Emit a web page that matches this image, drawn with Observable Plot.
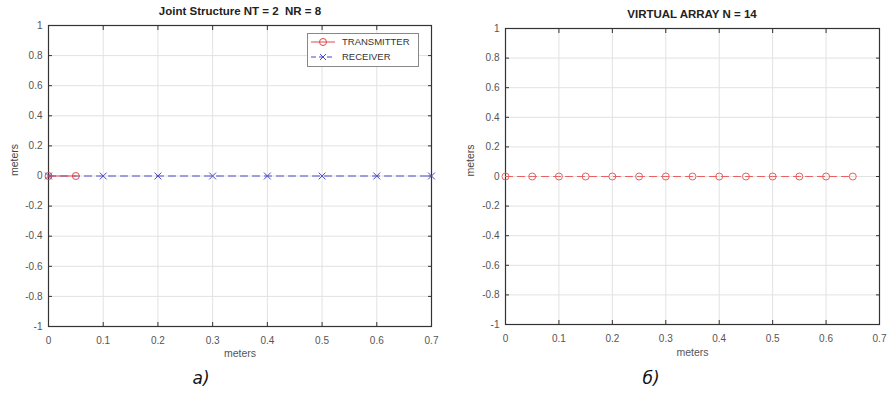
<!DOCTYPE html>
<html><head><meta charset="utf-8">
<script src="https://cdn.jsdelivr.net/npm/d3@7"></script>
<script src="https://cdn.jsdelivr.net/npm/@observablehq/plot@0.6"></script>
<style>
body{margin:0;background:#fff;font-family:"Liberation Sans",Arial,sans-serif;}
#wrap{position:relative;width:894px;height:395px;}
.t{position:absolute;font-weight:bold;font-size:11.5px;color:#222;white-space:pre;transform:translateX(-50%);}
.cap{position:absolute;font-style:italic;font-size:17px;color:#111;transform:translateX(-50%);font-family:"DejaVu Sans",sans-serif;}
.lg{position:absolute;left:307px;top:33px;width:110px;height:32px;border:1px solid #888;background:#fff;font-size:9.5px;color:#333;}
.lg div{height:15px;line-height:15px;display:flex;align-items:center;}
</style></head><body>
<div id="wrap">
<div class="t" style="left:240px;top:5px">Joint Structure NT = 2  NR = 8</div>
<div class="t" style="left:692px;top:8px">VIRTUAL ARRAY N = 14</div>
<div class="cap" style="left:201px;top:368px">а)</div>
<div class="cap" style="left:651px;top:368px">б)</div>
</div>
<script>
const transmitterX = [0, 0.05];
const receiverX = [0, 0.1, 0.2, 0.3, 0.4, 0.5, 0.6, 0.7];
const virtualX = [0, 0.05, 0.1, 0.15, 0.2, 0.25, 0.3, 0.35, 0.4, 0.45, 0.5, 0.55, 0.6, 0.65];
const xTicks = [0, 0.1, 0.2, 0.3, 0.4, 0.5, 0.6, 0.7];
const yTicks = [-1, -0.8, -0.6, -0.4, -0.2, 0, 0.2, 0.4, 0.6, 0.8, 1];
const legendLabels = ["TRANSMITTER", "RECEIVER"];

const red = "#e04848", blue = "#4848c8", vred = "#e86060";
const fmt = d => String(+d.toFixed(1));

function axes() {
  return [
    Plot.gridX(xTicks, {stroke: "#e2e2e2", strokeOpacity: 1}),
    Plot.gridY(yTicks, {stroke: "#e2e2e2", strokeOpacity: 1}),
    Plot.axisX(xTicks, {anchor: "bottom", tickSize: 0, tickPadding: 10, tickFormat: fmt, fill: "#555", fontSize: 10, label: null}),
    Plot.axisX(xTicks, {anchor: "bottom", tickSize: -4, text: null, stroke: "#333"}),
    Plot.axisX(xTicks, {anchor: "top", tickSize: -4, text: null, stroke: "#333"}),
    Plot.axisY(yTicks, {anchor: "left", tickSize: 0, tickPadding: 6, tickFormat: fmt, fill: "#555", fontSize: 10, label: null}),
    Plot.axisY(yTicks, {anchor: "left", tickSize: -4, text: null, stroke: "#333"}),
    Plot.axisY(yTicks, {anchor: "right", tickSize: -4, text: null, stroke: "#333"}),
    Plot.frame({stroke: "#333", strokeWidth: 1.2})
  ];
}

function mk(marks, m, w, h) {
  return Plot.plot({
    width: w, height: h,
    marginLeft: m[0], marginRight: m[1], marginTop: m[2], marginBottom: m[3],
    x: {domain: [0, 0.7], label: null},
    y: {domain: [-1, 1], label: null},
    style: {fontFamily: "Liberation Sans, Arial, sans-serif", fontSize: "10px", color: "#555", overflow: "visible"},
    marks
  });
}

const tData = transmitterX.map(x => ({x, y: 0}));
const rData = receiverX.map(x => ({x, y: 0}));
const vData = virtualX.map(x => ({x, y: 0}));

const left = mk([
  ...axes(),
  Plot.line(rData, {x: "x", y: "y", stroke: blue, strokeDasharray: "7,5", strokeWidth: 1}),
  Plot.dot(rData, {x: "x", y: "y", symbol: "times", r: 3.2, stroke: blue, strokeWidth: 1}),
  Plot.line(tData, {x: "x", y: "y", stroke: red, strokeWidth: 1}),
  Plot.dot(tData, {x: "x", y: "y", symbol: "circle", r: 3.5, stroke: red, strokeWidth: 1}),
  Plot.text(["meters"], {frameAnchor: "bottom", dy: 30, fill: "#555", fontSize: 10.5}),
  Plot.text(["meters"], {frameAnchor: "left", dx: -34, rotate: -90, fill: "#444", fontSize: 10.5})
], [48, 16, 25, 39], 447, 365);

const right = mk([
  ...axes(),
  Plot.line(vData, {x: "x", y: "y", stroke: vred, strokeDasharray: "7,5", strokeWidth: 1}),
  Plot.dot(vData, {x: "x", y: "y", symbol: "circle", r: 3.5, stroke: vred, strokeWidth: 1}),
  Plot.text(["meters"], {frameAnchor: "bottom", dy: 31, fill: "#555", fontSize: 10.5}),
  Plot.text(["meters"], {frameAnchor: "left", dx: -35, rotate: -90, fill: "#444", fontSize: 10.5})
], [58, 15, 28, 41], 447, 365);

const wrap = document.getElementById("wrap");
left.style.position = "absolute"; left.style.left = "0px"; left.style.top = "0px";
right.style.position = "absolute"; right.style.left = "447px"; right.style.top = "0px";
wrap.prepend(right); wrap.prepend(left);

const lg = document.createElement("div");
lg.className = "lg";
const sw = [
  `<svg width="30" height="12"><line x1="3" x2="27" y1="6" y2="6" stroke="${red}"/><circle cx="15" cy="6" r="3.5" fill="none" stroke="${red}"/></svg>`,
  `<svg width="30" height="12"><line x1="3" x2="27" y1="6" y2="6" stroke="${blue}" stroke-dasharray="5,3"/><path d="M12,3L18,9M18,3L12,9" stroke="${blue}"/></svg>`
];
legendLabels.forEach((l, i) => {
  const d = document.createElement("div");
  d.innerHTML = sw[i] + `<span style="margin-left:4px">${l}</span>`;
  lg.appendChild(d);
});
wrap.appendChild(lg);
</script>
</body></html>
